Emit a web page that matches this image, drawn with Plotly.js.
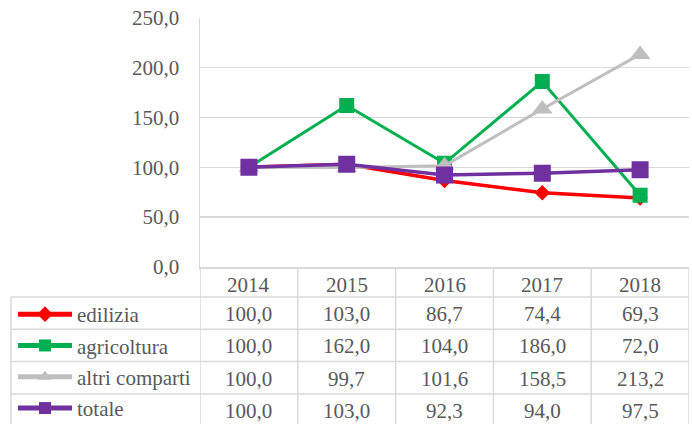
<!DOCTYPE html>
<html>
<head>
<meta charset="utf-8">
<script src="https://cdn.plot.ly/plotly-3.0.1.min.js"></script>
<style>html,body{margin:0;padding:0;background:#fff;}#chart{width:692px;height:424px;}</style>
</head>
<body>
<div id="chart"></div>
<script>
// ---- data ----
var years = ['2014', '2015', '2016', '2017', '2018'];
var seriesNames = ['edilizia', 'agricoltura', 'altri comparti', 'totale'];
var edilizia = [100.0, 103.0, 86.7, 74.4, 69.3];
var agricoltura = [100.0, 162.0, 104.0, 186.0, 72.0];
var altriComparti = [100.0, 99.7, 101.6, 158.5, 213.2];
var totale = [100.0, 103.0, 92.3, 94.0, 97.5];

// ---- styling / layout ----
var W = 692, H = 424;
function px(x) { return x / W; }
function py(y) { return 1 - y / H; }
var FONT = 'Liberation Serif';
var TXT = '#595959';
var GRID = '#D9D9D9';
var FS = 21;

var allValues = [edilizia, agricoltura, altriComparti, totale];
var styles = [
  {color: '#FF0000', symbol: 'diamond', size: 12, width: 3.5},
  {color: '#00B050', symbol: 'square', size: 15, width: 3},
  {color: '#BFBFBF', symbol: 'triangle-up', size: 18, width: 3},
  {color: '#7030A0', symbol: 'square', size: 17, width: 3.5}
];

var traces = allValues.map(function (vals, k) {
  return {
    type: 'scatter', mode: 'lines+markers',
    name: seriesNames[k], x: years, y: vals,
    legendgroup: 'g' + k,
    line: {color: styles[k].color, width: styles[k].width},
    marker: {color: styles[k].color, symbol: styles[k].symbol, size: styles[k].size},
    hoverinfo: 'x+y+name'
  };
});

var plotLeft = 200, plotRight = 689, plotTop = 17.7, plotBottom = 267;
var headerBottom = 297;
var rowH = 32.3;
var tableBottom = 424;

var shapes = [];
var lineStyle = {color: GRID, width: 1.5};
for (var r = 0; r < 4; r++) {
  var yy = headerBottom + r * rowH;
  shapes.push({type: 'line', xref: 'paper', yref: 'paper', x0: px(11), x1: px(plotRight), y0: py(yy), y1: py(yy), line: lineStyle});
}
shapes.push({type: 'line', xref: 'paper', yref: 'paper', x0: px(11), x1: px(11), y0: py(headerBottom), y1: py(tableBottom + 5), line: lineStyle});
for (var i = 0; i <= years.length; i++) {
  shapes.push({type: 'line', xref: 'x', yref: 'paper', x0: i - 0.5, x1: i - 0.5, y0: py(plotBottom), y1: py(tableBottom + 5), line: lineStyle});
}

var annotations = [];
function fmt(v) { return v.toFixed(1).replace('.', ','); }
years.forEach(function (yr, i) {
  annotations.push({xref: 'x', yref: 'paper', x: i, y: py(285), text: yr, showarrow: false,
    font: {family: FONT, size: FS, color: TXT}, xanchor: 'center', yanchor: 'middle'});
});
allValues.forEach(function (vals, k) {
  var cy = headerBottom + (k + 0.5) * rowH + 1;
  vals.forEach(function (v, i) {
    annotations.push({xref: 'x', yref: 'paper', x: i, y: py(cy), text: fmt(v), showarrow: false,
      font: {family: FONT, size: FS, color: TXT}, xanchor: 'center', yanchor: 'middle'});
  });
});

var layout = {
  width: W, height: H,
  margin: {l: 0, r: 0, t: 0, b: 0, autoexpand: false},
  paper_bgcolor: '#fff', plot_bgcolor: '#fff',
  font: {family: FONT, size: FS, color: TXT},
  separators: ',.',
  showlegend: true,
  legend: {
    x: px(13), y: py(294), xanchor: 'left', yanchor: 'top',
    font: {family: FONT, size: FS, color: TXT},
    bgcolor: 'rgba(0,0,0,0)', borderwidth: 0,
    traceorder: 'grouped', tracegroupgap: 1,
    itemsizing: 'constant', itemwidth: 54
  },
  xaxis: {
    type: 'category', categoryorder: 'array', categoryarray: years,
    range: [-0.5, years.length - 0.5],
    domain: [px(plotLeft), px(plotRight)],
    showgrid: false, zeroline: false, showline: true, linecolor: GRID, linewidth: 1.5,
    showticklabels: false, ticks: '', fixedrange: true
  },
  yaxis: {
    range: [0, 250], dtick: 50, tick0: 0, tickformat: '.1f',
    domain: [py(plotBottom), py(plotTop)],
    showgrid: true, gridcolor: GRID, gridwidth: 1.5,
    zeroline: false, showline: true, linecolor: GRID, linewidth: 1.5,
    ticks: '', ticklabelstandoff: 15,
    tickfont: {family: FONT, size: FS, color: TXT}, fixedrange: true
  },
  shapes: shapes,
  annotations: annotations
};

Plotly.newPlot('chart', traces, layout, {displayModeBar: false, staticPlot: true});
</script>
</body>
</html>
